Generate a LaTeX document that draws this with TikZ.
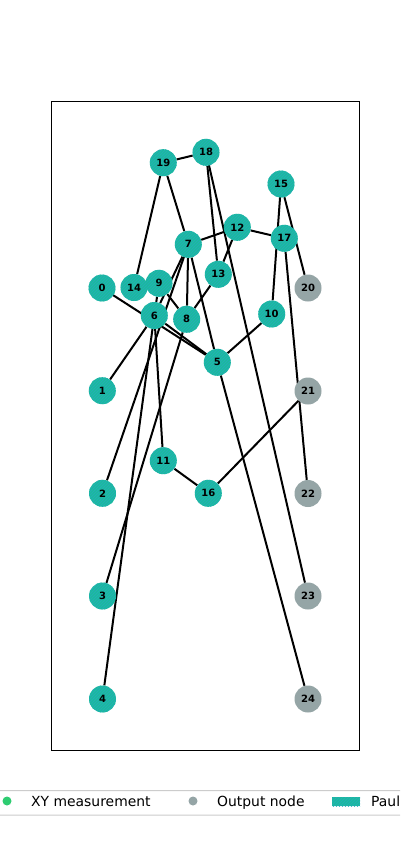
\documentclass[tikz,border=0pt]{standalone}
\usepackage{fontspec}
\setmainfont{DejaVu Sans}
\usetikzlibrary{patterns,backgrounds}
\definecolor{pauli}{RGB}{26,188,156}
\definecolor{hatchc}{RGB}{52,152,219}
\definecolor{outc}{RGB}{149,165,166}
\definecolor{xyc}{RGB}{46,204,113}
\definecolor{legframe}{RGB}{204,204,204}
\begin{document}
\begin{tikzpicture}[x=1pt,y=-1pt,
  pnode/.style={circle, minimum size=27pt, inner sep=0pt, preaction={fill=pauli}, pattern=north east lines, pattern color=hatchc!55!pauli, font=\fontsize{10}{10}\selectfont\bfseries},
  onode/.style={circle, minimum size=27pt, inner sep=0pt, fill=outc, font=\fontsize{10}{10}\selectfont\bfseries},
  edge/.style={line width=2pt, black},
  legtext/.style={anchor=base west, inner sep=0pt, font=\fontsize{13.9}{14}\selectfont}]
\useasboundingbox (0,0) rectangle (400,843);
\draw[line width=1pt] (51.5,101.5) rectangle (359.5,750);
% nodes
\node[pnode] (n0) at (102,288) {0};
\node[pnode] (n1) at (102.3,390.7) {1};
\node[pnode] (n2) at (102.5,493.3) {2};
\node[pnode] (n3) at (102.5,596) {3};
\node[pnode] (n4) at (102.5,699) {4};
\node[pnode] (n5) at (217.3,362.3) {5};
\node[pnode] (n6) at (154.3,315.5) {6};
\node[pnode] (n7) at (188.3,244.3) {7};
\node[pnode] (n8) at (186.7,319.3) {8};
\node[pnode] (n9) at (159,283.3) {9};
\node[pnode] (n10) at (271.7,314) {10};
\node[pnode] (n11) at (163.3,460.7) {11};
\node[pnode] (n12) at (237.3,227.3) {12};
\node[pnode] (n13) at (218.3,274.3) {13};
\node[pnode] (n14) at (134,287.5) {14};
\node[pnode] (n15) at (281,184) {15};
\node[pnode] (n16) at (208.3,493.3) {16};
\node[pnode] (n17) at (284.3,238.3) {17};
\node[pnode] (n18) at (206,152.3) {18};
\node[pnode] (n19) at (163.3,162.7) {19};
\node[onode] (n20) at (308,288) {20};
\node[onode] (n21) at (308,391) {21};
\node[onode] (n22) at (308,493.5) {22};
\node[onode] (n23) at (308,596) {23};
\node[onode] (n24) at (308,699) {24};
% edges
\begin{scope}[on background layer]
\fill[white] (0,0) rectangle (400,843);
\draw[edge] (n19) -- (n18);
\draw[edge] (n19) -- (n14);
\draw[edge] (n19) -- (n7);
\draw[edge] (n7) -- (n5);
\draw[edge] (n5) -- (n24);
\draw[edge] (n18) -- (n13);
\draw[edge] (n18.center) -- (n23);
\draw[edge] (n7) -- (n12);
\draw[edge] (n12) -- (n17);
\draw[edge] (n12) -- (n13);
\draw[edge] (n13) -- (n8);
\draw[edge] (n7) -- (n8);
\draw[edge] (n7) -- (n6);
\draw[edge] (n7.center) -- (n2);
\draw[edge] (n9) -- (n8);
\draw[edge] (n9) -- (n6);
\draw[edge] (n6) -- (n11);
\draw[edge] (n6) -- (n4);
\draw[edge] (n6) -- (n1);
\draw[edge] (n6) -- (n5);
\draw[edge] (n0.center) -- (n5);
\draw[edge] (n8) -- (n3);
\draw[edge] (n10) -- (n5);
\draw[edge] (n15.center) -- (n10);
\draw[edge] (n15) -- (n20);
\draw[edge] (n17) -- (n22);
\draw[edge] (n11) -- (n16);
\draw[edge] (n16) -- (n21);
\end{scope}
% legend
\begin{scope}
\clip (0,0) rectangle (400,843);
\draw[legframe, line width=1pt, fill=white, rounded corners=3pt] (-10,790.5) rectangle (420,815);
\fill[xyc] (7,801) circle (4.5pt);
\node[legtext] (lxy) at (31,806.5) {XY measurement};
\fill[outc] (193,801) circle (4.5pt);
\node[legtext] (lout) at (217,806.5) {Output node};
\path[preaction={fill=pauli}, pattern=north east lines, pattern color=hatchc!55!pauli] (332,797) rectangle (360,806);
\node[legtext] (lpauli) at (371,806.5) {Pauli measurement};
\end{scope}
\end{tikzpicture}
\end{document}
